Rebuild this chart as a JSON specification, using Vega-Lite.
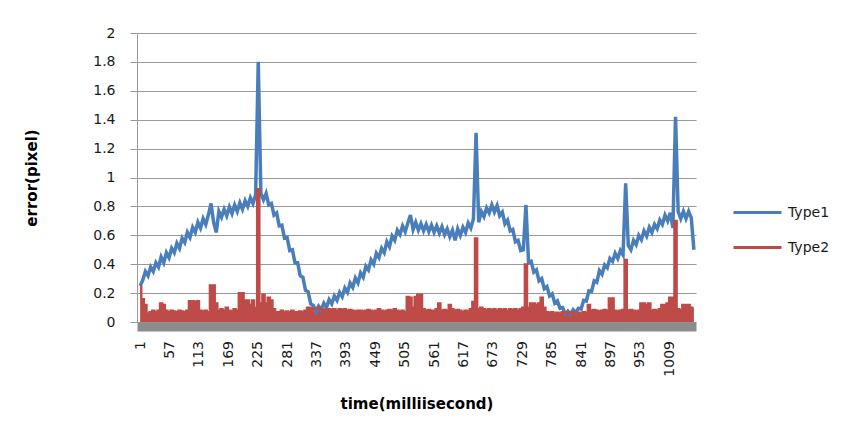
{
  "$schema": "https://vega.github.io/schema/vega-lite/v6.json",
  "width": 559,
  "height": 289,
  "autosize": {"type": "none"},
  "padding": {"left": 137, "top": 33, "right": 159, "bottom": 116},
  "background": "white",
  "config": {"view": {"stroke": null}, "font": "DejaVu Sans"},
  "data": {"values": [
    {"t":1,"Type1":0.25,"Type2":0.245},{"t":6,"Type1":0.29,"Type2":0.16},{"t":11,"Type1":0.35,"Type2":0.12},{"t":16,"Type1":0.32,"Type2":0.06},
    {"t":21,"Type1":0.38,"Type2":0.07},{"t":26,"Type1":0.35,"Type2":0.08},{"t":31,"Type1":0.41,"Type2":0.07},{"t":36,"Type1":0.38,"Type2":0.08},
    {"t":41,"Type1":0.45,"Type2":0.13},{"t":46,"Type1":0.41,"Type2":0.12},{"t":51,"Type1":0.48,"Type2":0.08},{"t":56,"Type1":0.445,"Type2":0.07},
    {"t":61,"Type1":0.51,"Type2":0.08},{"t":66,"Type1":0.48,"Type2":0.075},{"t":71,"Type1":0.545,"Type2":0.07},{"t":76,"Type1":0.51,"Type2":0.08},
    {"t":81,"Type1":0.58,"Type2":0.075},{"t":86,"Type1":0.55,"Type2":0.07},{"t":91,"Type1":0.62,"Type2":0.08},{"t":96,"Type1":0.585,"Type2":0.145},
    {"t":101,"Type1":0.655,"Type2":0.145},{"t":106,"Type1":0.62,"Type2":0.14},{"t":111,"Type1":0.69,"Type2":0.145},{"t":116,"Type1":0.65,"Type2":0.08},
    {"t":121,"Type1":0.715,"Type2":0.075},{"t":126,"Type1":0.675,"Type2":0.08},{"t":131,"Type1":0.74,"Type2":0.07},{"t":136,"Type1":0.82,"Type2":0.255},
    {"t":141,"Type1":0.69,"Type2":0.255},{"t":146,"Type1":0.62,"Type2":0.13},{"t":151,"Type1":0.765,"Type2":0.08},{"t":156,"Type1":0.725,"Type2":0.09},
    {"t":161,"Type1":0.78,"Type2":0.08},{"t":166,"Type1":0.735,"Type2":0.10},{"t":171,"Type1":0.795,"Type2":0.08},{"t":176,"Type1":0.75,"Type2":0.075},
    {"t":181,"Type1":0.81,"Type2":0.09},{"t":186,"Type1":0.765,"Type2":0.08},{"t":191,"Type1":0.825,"Type2":0.20},{"t":196,"Type1":0.78,"Type2":0.20},
    {"t":201,"Type1":0.84,"Type2":0.15},{"t":206,"Type1":0.80,"Type2":0.15},{"t":211,"Type1":0.86,"Type2":0.12},{"t":216,"Type1":0.82,"Type2":0.15},
    {"t":221,"Type1":0.88,"Type2":0.10},{"t":226,"Type1":1.8,"Type2":0.92},{"t":231,"Type1":0.89,"Type2":0.13},{"t":236,"Type1":0.845,"Type2":0.19},
    {"t":241,"Type1":0.89,"Type2":0.13},{"t":246,"Type1":0.81,"Type2":0.17},{"t":251,"Type1":0.82,"Type2":0.15},{"t":256,"Type1":0.74,"Type2":0.09},
    {"t":261,"Type1":0.755,"Type2":0.07},{"t":266,"Type1":0.665,"Type2":0.07},{"t":271,"Type1":0.67,"Type2":0.08},{"t":276,"Type1":0.58,"Type2":0.07},
    {"t":281,"Type1":0.585,"Type2":0.075},{"t":286,"Type1":0.495,"Type2":0.07},{"t":291,"Type1":0.50,"Type2":0.08},{"t":296,"Type1":0.41,"Type2":0.07},
    {"t":301,"Type1":0.41,"Type2":0.07},{"t":306,"Type1":0.32,"Type2":0.075},{"t":311,"Type1":0.31,"Type2":0.07},{"t":316,"Type1":0.22,"Type2":0.08},
    {"t":321,"Type1":0.21,"Type2":0.10},{"t":326,"Type1":0.125,"Type2":0.10},{"t":331,"Type1":0.115,"Type2":0.09},{"t":336,"Type1":0.07,"Type2":0.09},
    {"t":341,"Type1":0.11,"Type2":0.10},{"t":346,"Type1":0.085,"Type2":0.09},{"t":351,"Type1":0.13,"Type2":0.085},{"t":356,"Type1":0.10,"Type2":0.09},
    {"t":361,"Type1":0.155,"Type2":0.09},{"t":366,"Type1":0.125,"Type2":0.085},{"t":371,"Type1":0.18,"Type2":0.09},{"t":376,"Type1":0.15,"Type2":0.08},
    {"t":381,"Type1":0.205,"Type2":0.09},{"t":386,"Type1":0.175,"Type2":0.085},{"t":391,"Type1":0.235,"Type2":0.09},{"t":396,"Type1":0.205,"Type2":0.08},
    {"t":401,"Type1":0.27,"Type2":0.085},{"t":406,"Type1":0.24,"Type2":0.08},{"t":411,"Type1":0.305,"Type2":0.075},{"t":416,"Type1":0.27,"Type2":0.08},
    {"t":421,"Type1":0.34,"Type2":0.08},{"t":426,"Type1":0.31,"Type2":0.075},{"t":431,"Type1":0.385,"Type2":0.08},{"t":436,"Type1":0.36,"Type2":0.085},
    {"t":441,"Type1":0.43,"Type2":0.08},{"t":446,"Type1":0.40,"Type2":0.075},{"t":451,"Type1":0.475,"Type2":0.08},{"t":456,"Type1":0.445,"Type2":0.09},
    {"t":461,"Type1":0.51,"Type2":0.08},{"t":466,"Type1":0.48,"Type2":0.075},{"t":471,"Type1":0.555,"Type2":0.08},{"t":476,"Type1":0.52,"Type2":0.085},
    {"t":481,"Type1":0.595,"Type2":0.08},{"t":486,"Type1":0.565,"Type2":0.09},{"t":491,"Type1":0.635,"Type2":0.08},{"t":496,"Type1":0.605,"Type2":0.075},
    {"t":501,"Type1":0.665,"Type2":0.08},{"t":506,"Type1":0.625,"Type2":0.07},{"t":511,"Type1":0.685,"Type2":0.175},{"t":516,"Type1":0.74,"Type2":0.17},
    {"t":521,"Type1":0.64,"Type2":0.10},{"t":526,"Type1":0.69,"Type2":0.175},{"t":531,"Type1":0.635,"Type2":0.19},{"t":536,"Type1":0.68,"Type2":0.19},
    {"t":541,"Type1":0.63,"Type2":0.09},{"t":546,"Type1":0.675,"Type2":0.08},{"t":551,"Type1":0.625,"Type2":0.085},{"t":556,"Type1":0.67,"Type2":0.08},
    {"t":561,"Type1":0.62,"Type2":0.08},{"t":566,"Type1":0.665,"Type2":0.09},{"t":571,"Type1":0.615,"Type2":0.13},{"t":576,"Type1":0.66,"Type2":0.08},
    {"t":581,"Type1":0.605,"Type2":0.085},{"t":586,"Type1":0.645,"Type2":0.08},{"t":591,"Type1":0.59,"Type2":0.12},{"t":596,"Type1":0.635,"Type2":0.09},
    {"t":601,"Type1":0.565,"Type2":0.08},{"t":606,"Type1":0.645,"Type2":0.085},{"t":611,"Type1":0.60,"Type2":0.08},{"t":616,"Type1":0.655,"Type2":0.07},
    {"t":621,"Type1":0.62,"Type2":0.08},{"t":626,"Type1":0.685,"Type2":0.075},{"t":631,"Type1":0.65,"Type2":0.09},{"t":636,"Type1":0.715,"Type2":0.14},
    {"t":641,"Type1":1.31,"Type2":0.58},{"t":646,"Type1":0.69,"Type2":0.09},{"t":651,"Type1":0.765,"Type2":0.10},{"t":656,"Type1":0.73,"Type2":0.09},
    {"t":661,"Type1":0.79,"Type2":0.085},{"t":666,"Type1":0.755,"Type2":0.09},{"t":671,"Type1":0.81,"Type2":0.085},{"t":676,"Type1":0.76,"Type2":0.09},
    {"t":681,"Type1":0.805,"Type2":0.08},{"t":686,"Type1":0.735,"Type2":0.09},{"t":691,"Type1":0.76,"Type2":0.085},{"t":696,"Type1":0.68,"Type2":0.09},
    {"t":701,"Type1":0.705,"Type2":0.08},{"t":706,"Type1":0.63,"Type2":0.09},{"t":711,"Type1":0.64,"Type2":0.085},{"t":716,"Type1":0.555,"Type2":0.09},
    {"t":721,"Type1":0.565,"Type2":0.08},{"t":726,"Type1":0.495,"Type2":0.09},{"t":731,"Type1":0.50,"Type2":0.10},{"t":736,"Type1":0.81,"Type2":0.40},
    {"t":741,"Type1":0.41,"Type2":0.10},{"t":746,"Type1":0.42,"Type2":0.13},{"t":751,"Type1":0.345,"Type2":0.13},{"t":756,"Type1":0.36,"Type2":0.12},
    {"t":761,"Type1":0.285,"Type2":0.13},{"t":766,"Type1":0.30,"Type2":0.17},{"t":771,"Type1":0.23,"Type2":0.10},{"t":776,"Type1":0.245,"Type2":0.07},
    {"t":781,"Type1":0.18,"Type2":0.065},{"t":786,"Type1":0.195,"Type2":0.07},{"t":791,"Type1":0.13,"Type2":0.06},{"t":796,"Type1":0.145,"Type2":0.065},
    {"t":801,"Type1":0.095,"Type2":0.06},{"t":806,"Type1":0.10,"Type2":0.07},{"t":811,"Type1":0.055,"Type2":0.06},{"t":816,"Type1":0.075,"Type2":0.065},
    {"t":821,"Type1":0.055,"Type2":0.06},{"t":826,"Type1":0.085,"Type2":0.07},{"t":831,"Type1":0.065,"Type2":0.06},{"t":836,"Type1":0.095,"Type2":0.065},
    {"t":841,"Type1":0.09,"Type2":0.06},{"t":846,"Type1":0.15,"Type2":0.07},{"t":851,"Type1":0.145,"Type2":0.065},{"t":856,"Type1":0.215,"Type2":0.12},
    {"t":861,"Type1":0.21,"Type2":0.08},{"t":866,"Type1":0.285,"Type2":0.085},{"t":871,"Type1":0.275,"Type2":0.08},{"t":876,"Type1":0.355,"Type2":0.075},
    {"t":881,"Type1":0.33,"Type2":0.08},{"t":886,"Type1":0.395,"Type2":0.085},{"t":891,"Type1":0.375,"Type2":0.08},{"t":896,"Type1":0.44,"Type2":0.165},
    {"t":901,"Type1":0.42,"Type2":0.165},{"t":906,"Type1":0.475,"Type2":0.08},{"t":911,"Type1":0.44,"Type2":0.075},{"t":916,"Type1":0.495,"Type2":0.08},
    {"t":921,"Type1":0.465,"Type2":0.085},{"t":926,"Type1":0.96,"Type2":0.43},{"t":931,"Type1":0.53,"Type2":0.08},{"t":936,"Type1":0.50,"Type2":0.085},
    {"t":941,"Type1":0.565,"Type2":0.08},{"t":946,"Type1":0.535,"Type2":0.075},{"t":951,"Type1":0.60,"Type2":0.08},{"t":956,"Type1":0.57,"Type2":0.13},
    {"t":961,"Type1":0.63,"Type2":0.13},{"t":966,"Type1":0.595,"Type2":0.12},{"t":971,"Type1":0.655,"Type2":0.13},{"t":976,"Type1":0.62,"Type2":0.08},
    {"t":981,"Type1":0.675,"Type2":0.085},{"t":986,"Type1":0.645,"Type2":0.08},{"t":991,"Type1":0.705,"Type2":0.09},{"t":996,"Type1":0.675,"Type2":0.12},
    {"t":1001,"Type1":0.74,"Type2":0.12},{"t":1006,"Type1":0.70,"Type2":0.13},{"t":1011,"Type1":0.755,"Type2":0.17},{"t":1016,"Type1":0.65,"Type2":0.17},
    {"t":1021,"Type1":1.42,"Type2":0.70},{"t":1026,"Type1":0.765,"Type2":0.09},{"t":1031,"Type1":0.715,"Type2":0.085},{"t":1036,"Type1":0.765,"Type2":0.12},
    {"t":1041,"Type1":0.715,"Type2":0.12},{"t":1046,"Type1":0.765,"Type2":0.12},{"t":1051,"Type1":0.72,"Type2":0.10},{"t":1056,"Type1":0.5,"Type2":0.09}
  ]},
  "transform": [{"fold": ["Type1", "Type2"], "as": ["series", "value"]}],
  "encoding": {
    "x": {
      "field": "t", "type": "quantitative",
      "scale": {"domain": [-5, 1060], "nice": false, "zero": false},
      "axis": {
        "title": "time(milliisecond)",
        "values": [1,57,113,169,225,281,337,393,449,505,561,617,673,729,785,841,897,953,1009],
        "format": "d",
        "labelAngle": 270, "labelAlign": "right", "labelBaseline": "middle",
        "labelFlush": false, "labelOverlap": false,
        "grid": false, "ticks": false,
        "domainColor": "#8c8c8c", "domainWidth": 9, "offset": 4.5,
        "labelPadding": 14, "labelFontSize": 14, "labelColor": "#1a1a1a",
        "titleFontSize": 15, "titleFontWeight": "bold", "titleColor": "#000000", "titlePadding": 20
      }
    },
    "y": {
      "field": "value", "type": "quantitative",
      "scale": {"domain": [0, 2], "nice": false},
      "axis": {
        "title": "error(pixel)",
        "values": [0,0.2,0.4,0.6,0.8,1,1.2,1.4,1.6,1.8,2],
        "format": "~g",
        "grid": true, "gridColor": "#9a9a9a", "gridWidth": 1,
        "domainColor": "#9a9a9a", "tickColor": "#9a9a9a", "tickSize": 7,
        "labelPadding": 15, "labelFontSize": 14, "labelColor": "#1a1a1a",
        "titleFontSize": 15, "titleFontWeight": "bold", "titleColor": "#000000",
        "titleX": -98, "titleY": 144.5
      }
    }
  },
  "layer": [
    {
      "transform": [{"filter": "datum.series === 'Type2'"}],
      "mark": {"type": "area", "interpolate": "step", "color": "#BE4B48"}
    },
    {
      "transform": [{"filter": "datum.series === 'Type1'"}],
      "mark": {"type": "line", "strokeWidth": 3.5},
      "encoding": {
        "color": {
          "field": "series", "type": "nominal",
          "scale": {"domain": ["Type1", "Type2"], "range": ["#4A7EBB", "#BE4B48"]},
          "legend": {
            "title": null, "orient": "none", "legendX": 595, "legendY": 154,
            "symbolType": "stroke", "symbolSize": 2304, "symbolStrokeWidth": 3,
            "labelFontSize": 14, "labelColor": "#1a1a1a", "labelOffset": 5, "rowPadding": 2
          }
        }
      }
    },
    {
      "transform": [{"filter": "datum.series === 'Type2'"}],
      "mark": {"type": "line", "interpolate": "step", "strokeWidth": 2},
      "encoding": {
        "color": {
          "field": "series", "type": "nominal",
          "scale": {"domain": ["Type1", "Type2"], "range": ["#4A7EBB", "#BE4B48"]}
        }
      }
    }
  ]
}
